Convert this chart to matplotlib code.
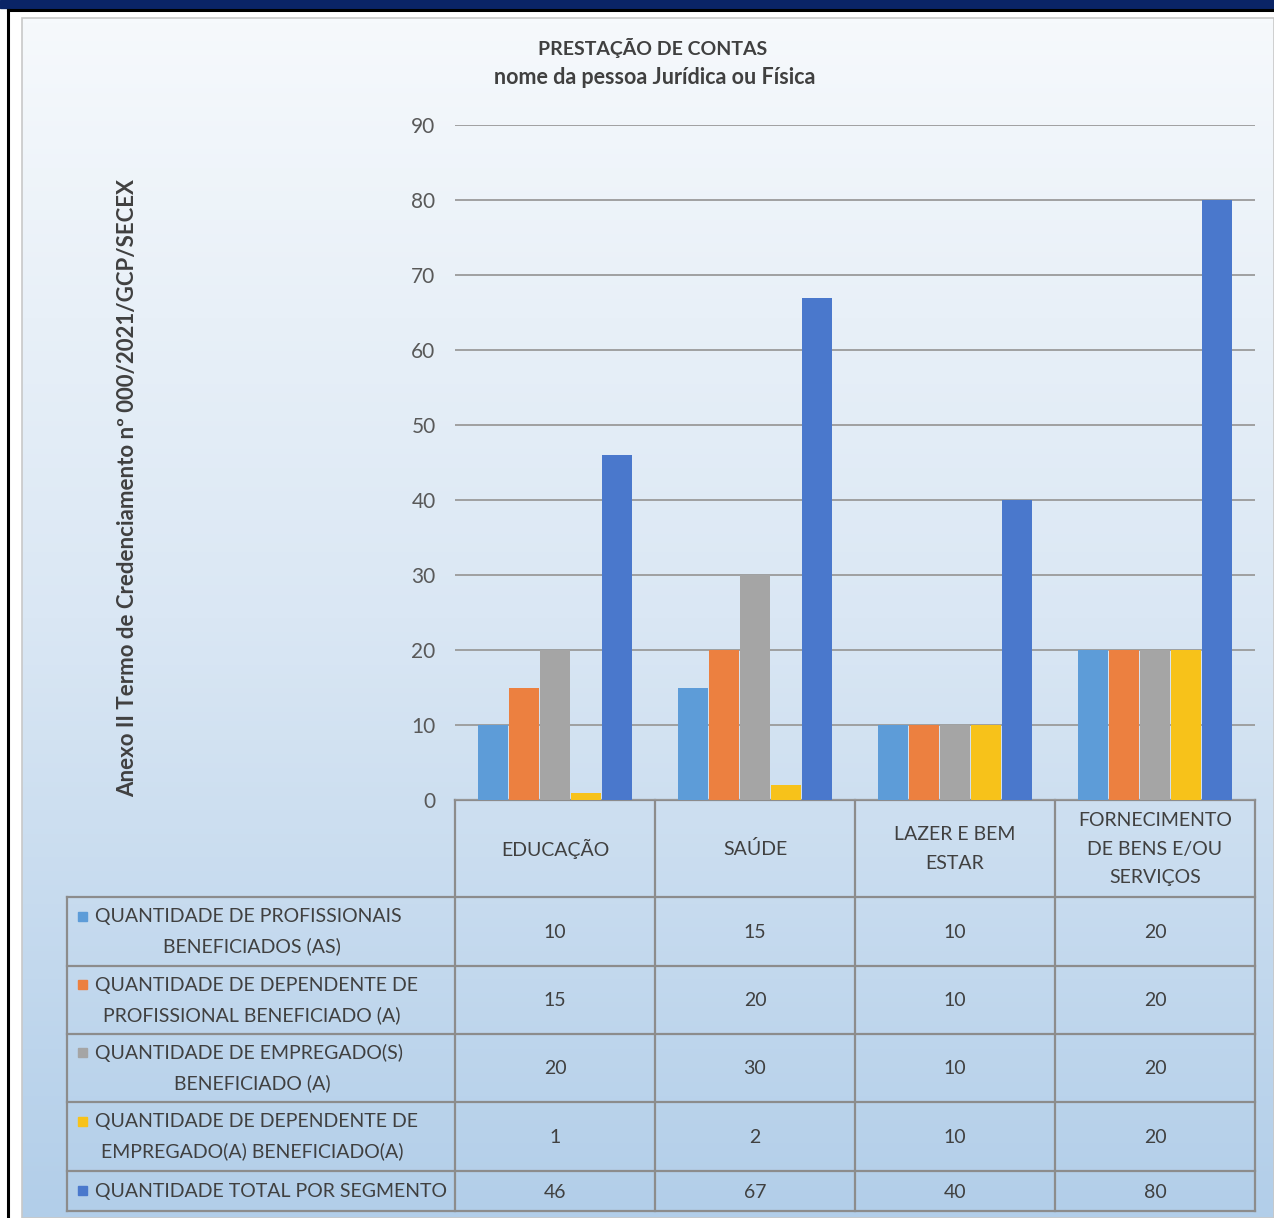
import numpy as np
import matplotlib
matplotlib.use("Agg")
import matplotlib.pyplot as plt
from matplotlib.colors import LinearSegmentedColormap
from matplotlib.patches import Rectangle

plt.rcParams["font.family"] = ["Lato", "DejaVu Sans"]

# data
categories = ["EDUCAÇÃO", "SAÚDE", "LAZER E BEM\nESTAR", "FORNECIMENTO\nDE BENS E/OU\nSERVIÇOS"]
series_labels = [
    ["QUANTIDADE DE PROFISSIONAIS", "BENEFICIADOS (AS)"],
    ["QUANTIDADE DE DEPENDENTE DE", "PROFISSIONAL BENEFICIADO (A)"],
    ["QUANTIDADE DE EMPREGADO(S)", "BENEFICIADO (A)"],
    ["QUANTIDADE DE DEPENDENTE DE", "EMPREGADO(A) BENEFICIADO(A)"],
    ["QUANTIDADE TOTAL POR SEGMENTO"],
]
profissionais = [10, 15, 10, 20]
dep_profissional = [15, 20, 10, 20]
empregados = [20, 30, 10, 20]
dep_empregado = [1, 2, 10, 20]
total_segmento = [46, 67, 40, 80]
series_values = [profissionais, dep_profissional, empregados, dep_empregado, total_segmento]
colors = ["#5d9cd8", "#ec8040", "#a5a5a5", "#f7c21a", "#4a78cc"]
y_ticks = list(range(0, 100, 10))

title = "PRESTAÇÃO DE CONTAS"
subtitle = "nome da pessoa Jurídica ou Física"
y_label = "Anexo II Termo de Credenciamento nº 000/2021/GCP/SECEX"

W, H = 1274, 1218
fig = plt.figure(figsize=(W / 100, H / 100), dpi=100)

# background layer in pixel coordinates
bg = fig.add_axes([0, 0, 1, 1])
bg.set_xlim(0, W)
bg.set_ylim(H, 0)
bg.axis("off")
bg.add_patch(Rectangle((0, 0), W, 8, color="#0a2466", zorder=1))
bg.plot([8, 8], [10, H], color="black", lw=2.2, zorder=3)
bg.plot([8, W], [10, 10], color="black", lw=2.2, zorder=3)
cmap = LinearSegmentedColormap.from_list("bg", ["#f6f9fc", "#dae7f4", "#b2cee9"])
grad = np.linspace(0, 1, 256).reshape(-1, 1)
bg.imshow(grad, cmap=cmap, aspect="auto", extent=(22, W, H, 18), zorder=1)
bg.add_patch(Rectangle((22, 18), W - 22, H - 18, fill=False, edgecolor="#c8c8c8", lw=1.2, zorder=2))

bg.text(653, 48, title, ha="center", va="center", fontsize=14, fontweight="bold", color="#404040")
bg.text(655, 78, subtitle, ha="center", va="center", fontsize=15.5, fontweight="bold", color="#404040")
bg.text(128, 488, y_label, ha="center", va="center", rotation=90, fontsize=16, fontweight="bold", color="#404040")

# table grid
line_kw = dict(color="#8c8c8c", lw=1.6, zorder=4)
col_x = [455, 655, 855, 1055, 1255]
row_y = [800, 897, 966, 1034, 1102, 1171, 1211]
for x in col_x:
    bg.plot([x, x], [800, 1211], **line_kw)
bg.plot([67, 67], [897, 1211], **line_kw)
for y in row_y[1:]:
    bg.plot([67, 1255], [y, y], **line_kw)
bg.plot([455, 1255], [800, 800], **line_kw)

txt_kw = dict(fontsize=14, color="#404040", va="center", zorder=5)
for i, cat in enumerate(categories):
    cx = (col_x[i] + col_x[i + 1]) / 2
    bg.text(cx, 849, cat, ha="center", linespacing=1.8, **txt_kw)

for r, (lines, vals, c) in enumerate(zip(series_labels, series_values, colors)):
    top, bot = row_y[r + 1], row_y[r + 2]
    mid = (top + bot) / 2
    if len(lines) == 2:
        y1, y2 = mid - 15, mid + 15
        bg.text(95, y1, lines[0], ha="left", **txt_kw)
        bg.text(252, y2, lines[1], ha="center", **txt_kw)
    else:
        y1 = mid
        bg.text(95, y1, lines[0], ha="left", **txt_kw)
    bg.add_patch(Rectangle((78, y1 - 5), 9, 9, color=c, zorder=5))
    for i, v in enumerate(vals):
        cx = (col_x[i] + col_x[i + 1]) / 2
        bg.text(cx, mid + 1, str(v), ha="center", **txt_kw)

# bar chart
ax = fig.add_axes([455 / W, (H - 800) / H, 800 / W, 675 / H])
ax.patch.set_alpha(0)
x = np.arange(len(categories))
width = 0.155
for i, (vals, c) in enumerate(zip(series_values, colors)):
    ax.bar(x + (i - 2) * width, vals, width=width * 0.97, color=c, zorder=3)
ax.set_xlim(-0.5, len(categories) - 0.5)
ax.set_ylim(0, 90)
ax.set_yticks(y_ticks)
ax.yaxis.grid(True, color="#9a9a9a", lw=1.3, zorder=0)
ax.set_xticks([])
for s in ax.spines.values():
    s.set_visible(False)
ax.tick_params(axis="y", length=0, pad=14, labelsize=15, labelcolor="#595959")

fig.savefig("out.png", dpi=100)
